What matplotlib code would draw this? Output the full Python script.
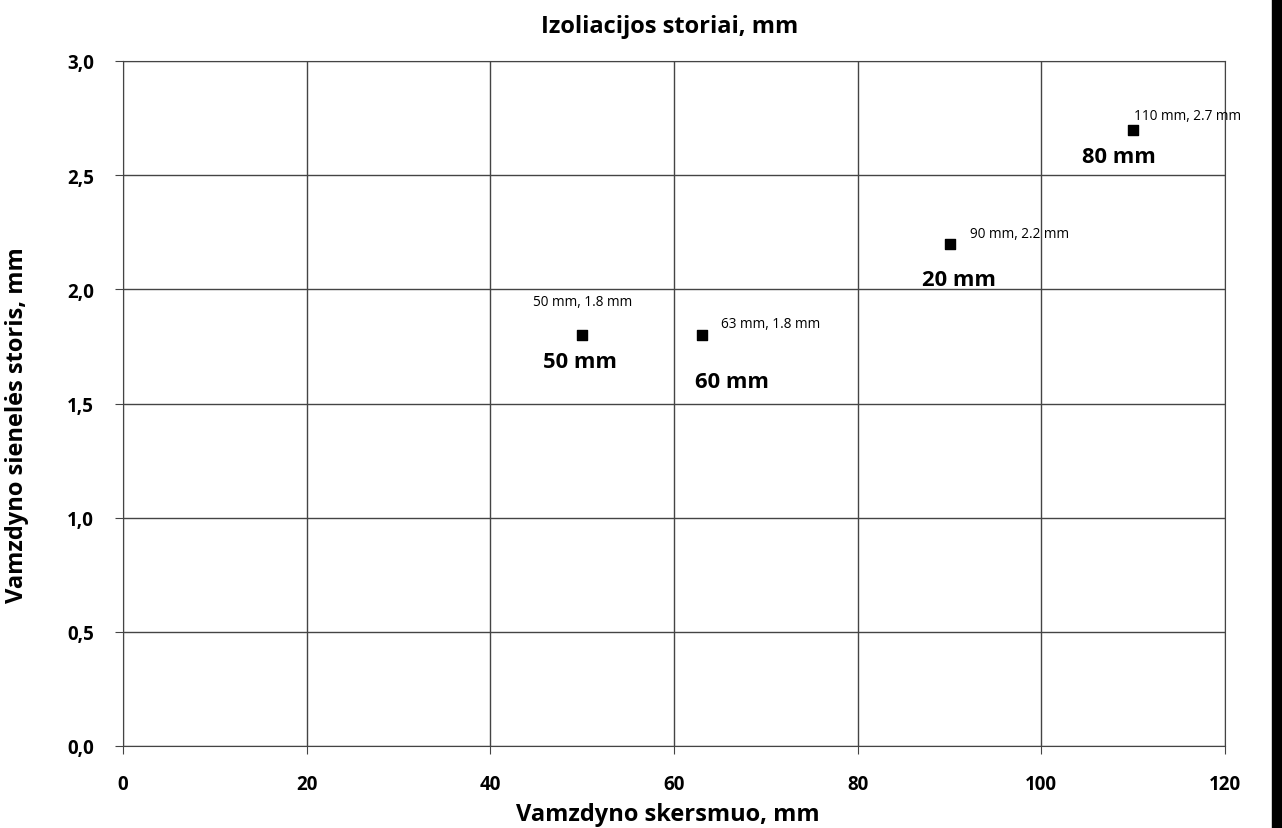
import matplotlib.pyplot as plt
from matplotlib.patches import Rectangle
from matplotlib.ticker import FuncFormatter

# data
diameter = [50, 63, 90, 110]          # mm
wall = [1.8, 1.8, 2.2, 2.7]           # mm
point_labels = ['50 mm, 1.8 mm', '63 mm, 1.8 mm', '90 mm, 2.2 mm', '110 mm, 2.7 mm']
insulation = ['50 mm', '60 mm', '20 mm', '80 mm']

plt.rcParams['font.family'] = ['Open Sans', 'DejaVu Sans']

W, H = 1282, 829
fig = plt.figure(figsize=(W / 100, H / 100), dpi=100)
ax = fig.add_axes([123 / W, 1 - 747 / H, (1225 - 123) / W, (747 - 62) / H])

ax.scatter(diameter, wall, marker='s', s=60, color='black', zorder=3)

# small value labels (offset in pixels)
small_off = [(0, -33, 'center'), (19, -11, 'left'), (20, -10, 'left'), (1, -14, 'left')]
big_off = [(-2, 27), (30, 46), (9, 36), (-14, 27)]
for x, y, lab, ins, so, bo in zip(diameter, wall, point_labels, insulation, small_off, big_off):
    ax.annotate(lab, (x, y), xytext=(so[0], -so[1]), textcoords='offset pixels',
                ha=so[2], va='center', fontsize=9.8, clip_on=False)
    ax.annotate(ins, (x, y), xytext=(bo[0], -bo[1]), textcoords='offset pixels',
                ha='center', va='center', fontsize=15.8, fontweight='bold')

ax.set_xlim(0, 120)
ax.set_ylim(0, 3.0)
ax.set_xticks(range(0, 121, 20))
ax.set_yticks([0, 0.5, 1.0, 1.5, 2.0, 2.5, 3.0])
ax.yaxis.set_major_formatter(FuncFormatter(lambda v, p: f'{v:.1f}'.replace('.', ',')))
ax.grid(True, color='#444444', linewidth=1)
ax.set_axisbelow(True)
for sp in ax.spines.values():
    sp.set_color('#444444')
ax.tick_params(length=6, color='#444444', labelsize=13.5)
ax.tick_params(axis='x', pad=14)
ax.tick_params(axis='y', pad=15)
for t in ax.get_xticklabels() + ax.get_yticklabels():
    t.set_fontweight('bold')

fig.text(668 / W, 1 - 815 / H, 'Vamzdyno skersmuo, mm', fontsize=17, fontweight='bold',
         ha='center', va='center')
fig.text(17 / W, 1 - 425 / H, 'Vamzdyno sienelės storis, mm', fontsize=17, fontweight='bold',
         ha='center', va='center', rotation=90)
fig.text(670 / W, 1 - 27 / H, 'Izoliacijos storiai, mm', fontsize=17, fontweight='bold',
         ha='center', va='center')

# dark edge at the right side of the original image
fig.patches.append(Rectangle((1272 / W, 0), 10 / W, 1, transform=fig.transFigure,
                             color='black', zorder=5))

fig.savefig('out.png', dpi=100)
